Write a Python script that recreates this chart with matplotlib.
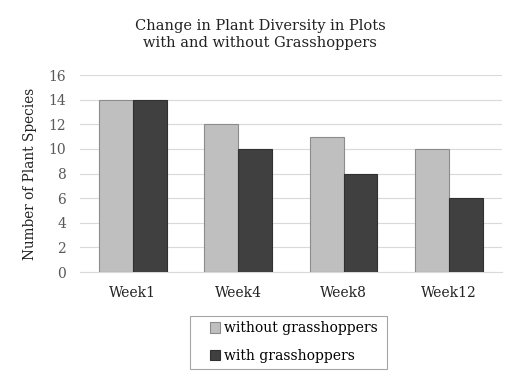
import matplotlib
matplotlib.use('Agg')
import matplotlib.pyplot as plt
from matplotlib.patches import Rectangle
import numpy as np

weeks = ['Week1', 'Week4', 'Week8', 'Week12']
without_gh = [14, 12, 11, 10]
with_gh = [14, 10, 8, 6]
yticks = [0, 2, 4, 6, 8, 10, 12, 14, 16]

plt.rcParams['font.family'] = ['DejaVu Serif']

fig = plt.figure(figsize=(5.2, 3.79), dpi=100)
ax = fig.add_axes([0.154, 0.282, 0.811, 0.52])

x = np.arange(len(weeks))
w = 0.32
ax.bar(x - w / 2, without_gh, w, color='#bfbfbf', edgecolor='#8c8c8c', linewidth=0.8,
       label='without grasshoppers', zorder=3)
ax.bar(x + w / 2, with_gh, w, color='#404040', edgecolor='#303030', linewidth=0.8,
       label='with grasshoppers', zorder=3)

ax.set_xlim(-0.5, 3.5)
ax.set_ylim(0, 16)
ax.set_yticks(yticks)
ax.set_xticks(x)
ax.set_xticklabels(weeks, fontsize=10, color='#222222')
ax.tick_params(axis='y', labelsize=10, labelcolor='#595959', length=0, pad=10)
ax.tick_params(axis='x', length=0, pad=10)
ax.yaxis.grid(True, color='#d9d9d9', linewidth=0.8, zorder=0)
for s in ['top', 'right', 'left']:
    ax.spines[s].set_visible(False)
ax.spines['bottom'].set_color('#d9d9d9')

ax.set_ylabel('Number of Plant Species', fontsize=9.8, color='#222222', labelpad=8)
fig.suptitle('Change in Plant Diversity in Plots\nwith and without Grasshoppers',
             fontsize=10.5, y=0.951, va='top', color='#222222', linespacing=1.32)

# legend box drawn separately so padding can match
fig.patches.append(Rectangle((0.365, 0.0264), 0.379, 0.14, transform=fig.transFigure,
                             facecolor='white', edgecolor='#a6a6a6', linewidth=0.8))
leg = fig.legend(loc='upper left', bbox_to_anchor=(0.404, 0.152), ncol=1,
                 fontsize=10, frameon=False, handlelength=0.75, handleheight=0.75,
                 handletextpad=0.25, borderpad=0, borderaxespad=0, labelspacing=0.95)

fig.savefig('out.png', dpi=100)
